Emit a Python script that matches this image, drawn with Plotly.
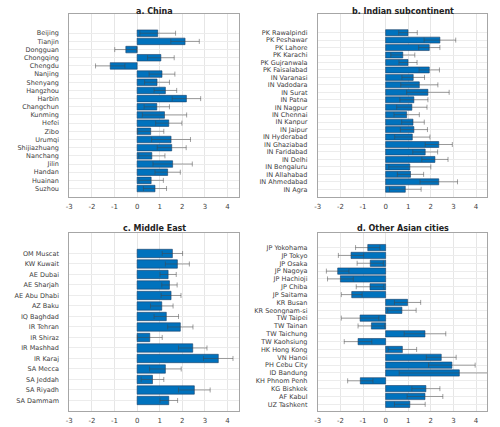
import plotly.graph_objects as go

# ---------------- data ----------------
china_cities = ["Beijing", "Tianjin", "Dongguan", "Chongqing", "Chengdu", "Nanjing", "Shenyang",
                "Hangzhou", "Harbin", "Changchun", "Kunming", "Hefei", "Zibo", "Urumqi",
                "Shijiazhuang", "Nanchang", "Jilin", "Handan", "Huainan", "Suzhou"]
china_vals = [0.91, 2.12, -0.50, 1.05, -1.19, 1.10, 0.88, 1.25, 2.18, 0.87, 1.21, 1.40, 0.60, 1.50,
              1.53, 0.65, 1.57, 1.35, 0.62, 0.79]
china_err = [0.79, 0.63, 0.49, 0.59, 0.65, 0.57, 0.55, 0.50, 0.63, 0.56, 0.98, 0.58, 0.58, 0.86,
             0.64, 0.58, 0.87, 0.56, 0.54, 0.51]

india_cities = ["PK Rawalpindi", "PK Peshawar", "PK Lahore", "PK Karachi", "PK Gujranwala",
                "PK Faisalabad", "IN Varanasi", "IN Vadodara", "IN Surat", "IN Patna", "IN Nagpur",
                "IN Chennai", "IN Kanpur", "IN Jaipur", "IN Hyderabad", "IN Ghaziabad",
                "IN Faridabad", "IN Delhi", "IN Bengaluru", "IN Allahabad", "IN Ahmedabad", "IN Agra"]
india_vals = [0.99, 2.40, 1.93, 0.76, 0.99, 1.93, 1.22, 1.49, 1.87, 1.25, 1.16, 0.93, 1.21, 1.25,
              1.18, 2.35, 1.75, 2.18, 1.07, 1.10, 2.35, 0.87]
india_err = [0.41, 0.70, 0.47, 0.53, 0.40, 0.45, 0.50, 0.82, 0.94, 0.62, 0.67, 0.56, 0.50, 0.60,
             0.78, 0.60, 0.55, 0.58, 0.93, 0.58, 0.83, 0.70]

me_cities = ["OM Muscat", "KW Kuwait", "AE Dubai", "AE Sharjah", "AE Abu Dhabi", "AZ Baku",
             "IQ Baghdad", "IR Tehran", "IR Shiraz", "IR Mashhad", "IR Karaj", "SA Mecca",
             "SA Jeddah", "SA Riyadh", "SA Dammam"]
me_vals = [1.56, 1.78, 1.37, 1.43, 1.50, 1.09, 1.29, 1.91, 0.56, 2.46, 3.59, 1.25, 0.68, 2.53, 1.40]
me_err = [0.45, 0.53, 0.36, 0.34, 0.44, 0.50, 0.54, 0.56, 0.55, 0.63, 0.65, 0.70, 0.50, 0.70, 0.39]

asia_cities = ["JP Yokohama", "JP Tokyo", "JP Osaka", "JP Nagoya", "JP Hachioji", "JP Chiba",
               "JP Saitama", "KR Busan", "KR Seongnam-si", "TW Taipei", "TW Tainan", "TW Taichung",
               "TW Kaohsiung", "HK Hong Kong", "VN Hanoi", "PH Cebu City", "ID Bandung",
               "KH Phnom Penh", "KG Bishkek", "AF Kabul", "UZ Tashkent"]
asia_vals = [-0.79, -1.53, -0.68, -2.12, -2.00, -0.69, -1.50, 0.97, 0.72, -1.13, -0.63, 1.74,
             -1.22, 0.74, 2.46, 2.93, 3.26, -1.12, 1.78, 1.74, 1.07]
asia_err = [0.54, 0.56, 0.58, 0.50, 0.57, 0.61, 0.46, 0.58, 0.63, 0.83, 0.59, 0.92, 0.61, 0.63,
            0.66, 1.03, 2.66, 0.56, 0.62, 0.79, 0.68]

x_ticks = [-3, -2, -1, 0, 1, 2, 3, 4]
x_tick_labels = ["-3", "-2", "-1", "0", "1", "2", "3", "4"]

panels = [
    ("a. China", china_cities, china_vals, china_err, [0.1334, 0.4746], [0.5393, 0.9672], 20, -2.35, 3),
    ("b. Indian subcontinent", india_cities, india_vals, india_err, [0.6334, 0.9746], [0.5393, 0.9672], 22, -2.5, 3),
    ("c. Middle East", me_cities, me_vals, me_err, [0.1334, 0.4746], [0.0375, 0.4543], 15, -1.95, 5),
    ("d. Other Asian cities", asia_cities, asia_vals, asia_err, [0.6334, 0.9746], [0.0375, 0.4543], 20.85, -1.86, 5),
]

fig = go.Figure()
layout = dict(
    width=500, height=427, margin=dict(l=0, r=0, t=0, b=0),
    paper_bgcolor="white", plot_bgcolor="white", showlegend=False,
    font=dict(family="DejaVu Sans", size=7, color="#404040"),
)
annotations = []
for i, (title, cities, vals, errs, xd, yd, ybot, ytop, tshift) in enumerate(panels):
    n = i + 1
    xa = "x" if n == 1 else f"x{n}"
    ya = "y" if n == 1 else f"y{n}"
    pos = list(range(len(cities)))
    fig.add_trace(go.Bar(
        x=vals, y=pos, orientation="h", width=0.8,
        marker=dict(color="#0072BD", line=dict(color="#1c3f66", width=0.6)),
        error_x=dict(type="data", array=errs, visible=True,
                     color="rgba(70,70,70,0.5)", thickness=1, width=2.5),
        xaxis=xa, yaxis=ya, hoverinfo="skip",
    ))
    layout["xaxis" if n == 1 else f"xaxis{n}"] = dict(
        domain=xd, anchor=ya, range=[-3, 4.5], tickvals=x_ticks, ticktext=x_tick_labels,
        showgrid=True, gridcolor="#e6e6e6", gridwidth=1, zeroline=False,
        showline=True, linecolor="#a6a6a6", linewidth=1, mirror=True,
        ticks="", tickfont=dict(size=7, color="#404040"), ticklabelstandoff=3,
    )
    layout["yaxis" if n == 1 else f"yaxis{n}"] = dict(
        domain=yd, anchor=xa, range=[ybot, ytop], tickvals=pos, ticktext=cities,
        showgrid=True, gridcolor="#ececec", gridwidth=1, zeroline=False,
        showline=True, linecolor="#a6a6a6", linewidth=1, mirror=True,
        ticks="", tickfont=dict(size=6.5, color="#404040"), ticklabelstandoff=8,
    )
    annotations.append(dict(
        text=f"<b>{title}</b>", x=(xd[0] + xd[1]) / 2, y=yd[1], xref="paper", yref="paper",
        xanchor="center", yanchor="middle", showarrow=False,
        font=dict(size=8, color="#222222", family="DejaVu Sans"), yshift=tshift,
    ))
layout["annotations"] = annotations
fig.update_layout(**layout)
fig.write_html("out.html")
